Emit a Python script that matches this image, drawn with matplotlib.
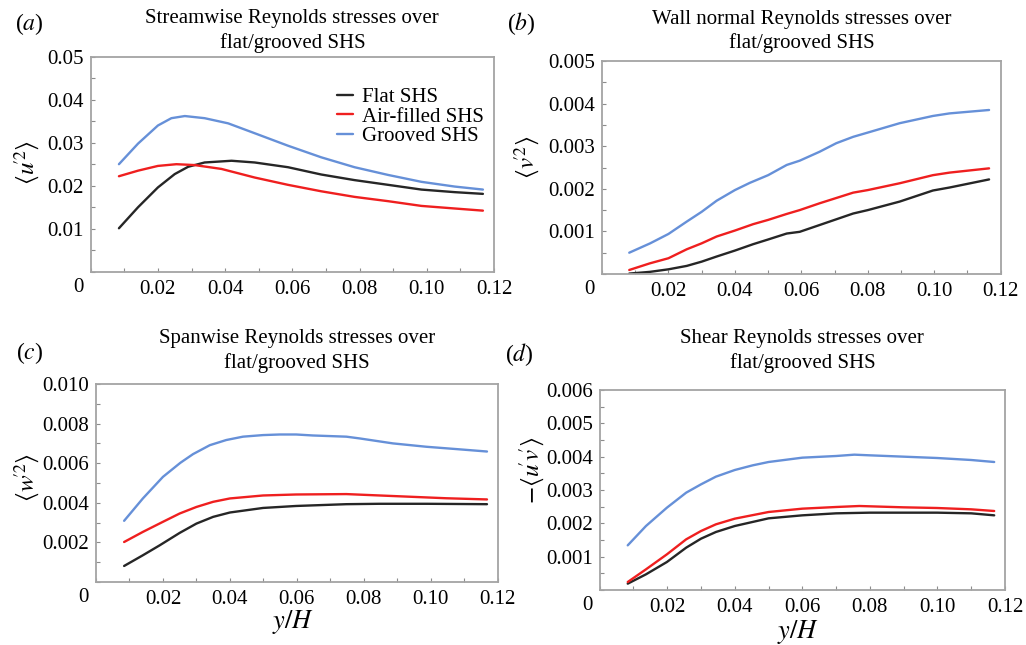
import matplotlib
matplotlib.use("Agg")
import matplotlib.pyplot as plt
from matplotlib.ticker import MultipleLocator

plt.rcParams['font.family'] = ['Liberation Serif', 'DejaVu Serif']
plt.rcParams['mathtext.fontset'] = 'stix'

# ---------------------------------------------------------------- data
series_names = ["Flat SHS", "Air-filled SHS", "Grooved SHS"]
series_colors = ["#262626", "#ef1f1f", "#6690d8"]

# (a) streamwise <u'^2>
a_flat_x = [0.0084, 0.0141, 0.0200, 0.0250, 0.0290, 0.0339, 0.0419, 0.0488, 0.0587,
            0.0686, 0.0785, 0.0885, 0.0984, 0.1083, 0.1167]
a_flat_y = [0.0101, 0.0150, 0.0196, 0.0227, 0.0244, 0.0254, 0.0258, 0.0254, 0.0243,
            0.0226, 0.0213, 0.0202, 0.0191, 0.0185, 0.0181]
a_air_x = [0.0084, 0.0141, 0.0200, 0.0255, 0.0309, 0.0389, 0.0488, 0.0587, 0.0686,
           0.0785, 0.0885, 0.0984, 0.1083, 0.1167]
a_air_y = [0.0222, 0.0235, 0.0246, 0.0250, 0.0248, 0.0239, 0.0219, 0.0202, 0.0187,
           0.0174, 0.0164, 0.0153, 0.0147, 0.0142]
a_groove_x = [0.0084, 0.0141, 0.0200, 0.0240, 0.0280, 0.0339, 0.0409, 0.0488, 0.0587,
              0.0686, 0.0785, 0.0885, 0.0984, 0.1083, 0.1167]
a_groove_y = [0.0250, 0.0298, 0.0340, 0.0357, 0.0362, 0.0357, 0.0345, 0.0322, 0.0293,
              0.0266, 0.0243, 0.0225, 0.0209, 0.0198, 0.0191]

# (b) wall-normal <v'^2>
b_flat_x = [0.0082, 0.0144, 0.0200, 0.0255, 0.0300, 0.0345, 0.0400, 0.0455, 0.0500,
            0.0556, 0.0595, 0.0655, 0.0756, 0.0800, 0.0896, 0.0996, 0.1046, 0.1165]
b_flat_y = [0.00001, 0.00005, 0.00011, 0.00019, 0.00029, 0.00041, 0.00055, 0.00070,
            0.00081, 0.00095, 0.00099, 0.00115, 0.00142, 0.00150, 0.00170, 0.00196,
            0.00203, 0.00222]
b_air_x = [0.0082, 0.0144, 0.0200, 0.0255, 0.0300, 0.0345, 0.0400, 0.0455, 0.0500,
           0.0556, 0.0595, 0.0655, 0.0756, 0.0800, 0.0896, 0.0996, 0.1046, 0.1165]
b_air_y = [0.000094, 0.00025, 0.00037, 0.00058, 0.00072, 0.00088, 0.00102, 0.00117,
           0.00127, 0.00141, 0.00150, 0.00166, 0.00191, 0.00197, 0.00213, 0.00232,
           0.00238, 0.00248]
b_groove_x = [0.0082, 0.0145, 0.0200, 0.0255, 0.0300, 0.0345, 0.0400, 0.0445, 0.0500,
              0.0556, 0.0595, 0.0655, 0.0705, 0.0756, 0.0800, 0.0896, 0.0996, 0.1046,
              0.1165]
b_groove_y = [0.00050, 0.00072, 0.00094, 0.00123, 0.00146, 0.00172, 0.00197, 0.00214,
              0.00232, 0.00256, 0.00266, 0.00287, 0.00307, 0.00322, 0.00332, 0.00354,
              0.00371, 0.00377, 0.00385]

# (c) spanwise <w'^2>
c_flat_x = [0.0084, 0.0140, 0.0190, 0.0250, 0.0300, 0.0350, 0.0400, 0.0499, 0.0598,
            0.0748, 0.0847, 0.0987, 0.1168]
c_flat_y = [0.00081, 0.00135, 0.00185, 0.00248, 0.00295, 0.00329, 0.00351, 0.00374,
            0.00384, 0.00393, 0.00395, 0.00395, 0.00393]
c_air_x = [0.0084, 0.0140, 0.0200, 0.0250, 0.0300, 0.0350, 0.0400, 0.0499, 0.0598,
           0.0748, 0.0847, 0.0947, 0.1046, 0.1168]
c_air_y = [0.00202, 0.00253, 0.00304, 0.00346, 0.00379, 0.00405, 0.00422, 0.00437,
           0.00442, 0.00444, 0.00437, 0.00430, 0.00423, 0.00417]
c_groove_x = [0.0084, 0.0140, 0.0200, 0.0252, 0.0290, 0.0340, 0.0389, 0.0439, 0.0499,
              0.0549, 0.0598, 0.0648, 0.0748, 0.0788, 0.0887, 0.0987, 0.1086, 0.1168]
c_groove_y = [0.00309, 0.00422, 0.00531, 0.00602, 0.00646, 0.00691, 0.00717, 0.00734,
              0.00742, 0.00745, 0.00745, 0.00740, 0.00734, 0.00725, 0.00700, 0.00683,
              0.00670, 0.00659]

# (d) shear -<u'v'>
d_flat_x = [0.0083, 0.0137, 0.0199, 0.0256, 0.0300, 0.0344, 0.0400, 0.0500, 0.0600,
            0.0700, 0.0800, 0.0900, 0.0999, 0.1100, 0.1168]
d_flat_y = [0.00019, 0.00047, 0.00084, 0.00127, 0.00154, 0.00174, 0.00192, 0.00215,
            0.00224, 0.00230, 0.00232, 0.00232, 0.00232, 0.00230, 0.00224]
d_air_x = [0.0083, 0.0137, 0.0199, 0.0256, 0.0300, 0.0344, 0.0400, 0.0500, 0.0600,
           0.0700, 0.0769, 0.0900, 0.0999, 0.1100, 0.1168]
d_air_y = [0.00024, 0.00062, 0.00107, 0.00152, 0.00177, 0.00197, 0.00214, 0.00234,
           0.00244, 0.00249, 0.00252, 0.00248, 0.00246, 0.00242, 0.00237]
d_groove_x = [0.0083, 0.0137, 0.0199, 0.0256, 0.0300, 0.0344, 0.0400, 0.0453, 0.0500,
              0.0600, 0.0700, 0.0754, 0.0800, 0.0900, 0.0999, 0.1100, 0.1168]
d_groove_y = [0.00134, 0.00192, 0.00247, 0.00292, 0.00317, 0.00340, 0.00360, 0.00374,
              0.00384, 0.00397, 0.00402, 0.00406, 0.00404, 0.00400, 0.00396, 0.00390,
              0.00384]

x_ticks = [0.02, 0.04, 0.06, 0.08, 0.10, 0.12]
x_tick_labels = ["0.02", "0.04", "0.06", "0.08", "0.10", "0.12"]

a_yticks = [0.01, 0.02, 0.03, 0.04, 0.05]
a_ylabels = ["0.01", "0.02", "0.03", "0.04", "0.05"]
b_yticks = [0.001, 0.002, 0.003, 0.004, 0.005]
b_ylabels = ["0.001", "0.002", "0.003", "0.004", "0.005"]
c_yticks = [0.002, 0.004, 0.006, 0.008, 0.010]
c_ylabels = ["0.002", "0.004", "0.006", "0.008", "0.010"]
d_yticks = [0.001, 0.002, 0.003, 0.004, 0.005, 0.006]
d_ylabels = ["0.001", "0.002", "0.003", "0.004", "0.005", "0.006"]

titles = [
    "Streamwise Reynolds stresses over\nflat/grooved SHS",
    "Wall normal Reynolds stresses over\nflat/grooved SHS",
    "Spanwise Reynolds stresses over\nflat/grooved SHS",
    "Shear Reynolds stresses over\nflat/grooved SHS",
]
ylabels = [r"$\langle u^{\!\!\prime 2}\rangle$", r"$\langle v^{\!\!\prime 2}\rangle$",
           r"$\langle w^{\!\!\prime 2}\rangle$",
           r"$-\langle u^{\!\!\prime} v^{\!\!\prime}\rangle$"]
panel_tags = ["a", "b", "c", "d"]

# ---------------------------------------------------------------- figure
W, H = 1026, 645
fig = plt.figure(figsize=(W / 100, H / 100), dpi=100)
FS = 15
FRAME = "#a4a4a4"


def px_axes(left, top, right, bottom):
    return fig.add_axes([left / W, 1 - bottom / H, (right - left) / W, (bottom - top) / H])


panels = [
    dict(box=(90.7, 56.7, 494.0, 271.7), ymax=0.05, yt=a_yticks, yl=a_ylabels, ymin_step=0.005,
         data=[(a_flat_x, a_flat_y), (a_air_x, a_air_y), (a_groove_x, a_groove_y)],
         ylab_pos=(-0.158, 0.51), tag_pos=(29, 24), title_y=31, xlabel=False),
    dict(box=(602.0, 61.0, 1000.7, 274.0), ymax=0.005, yt=b_yticks, yl=b_ylabels, ymin_step=0.0005,
         data=[(b_flat_x, b_flat_y), (b_air_x, b_air_y), (b_groove_x, b_groove_y)],
         ylab_pos=(-0.186, 0.55), tag_pos=(521, 24), title_y=31.5, xlabel=False),
    dict(box=(96.0, 384.0, 497.7, 582.0), ymax=0.010, yt=c_yticks, yl=c_ylabels, ymin_step=0.001,
         data=[(c_flat_x, c_flat_y), (c_air_x, c_air_y), (c_groove_x, c_groove_y)],
         ylab_pos=(-0.172, 0.53), tag_pos=(30, 353), title_y=351, xlabel=(0.49, -0.20)),
    dict(box=(599.7, 390.0, 1005.0, 590.0), ymax=0.006, yt=d_yticks, yl=d_ylabels, ymin_step=0.0005,
         data=[(d_flat_x, d_flat_y), (d_air_x, d_air_y), (d_groove_x, d_groove_y)],
         ylab_pos=(-0.167, 0.60), tag_pos=(519, 355), title_y=351, xlabel=(0.489, -0.21)),
]

for i, p in enumerate(panels):
    l, t, r, b = p["box"]
    ax = px_axes(l, t, r, b)
    for (xs, ys), name, col in zip(p["data"], series_names, series_colors):
        ax.plot(xs, ys, color=col, lw=1.7, label=name, solid_capstyle="round",
                solid_joinstyle="round")
    ax.set_xlim(0, 0.12)
    ax.set_ylim(0, p["ymax"])
    ax.set_xticks(x_ticks, x_tick_labels)
    ax.set_yticks(p["yt"], p["yl"])
    ax.xaxis.set_minor_locator(MultipleLocator(0.01))
    ax.yaxis.set_minor_locator(MultipleLocator(p["ymin_step"]))
    ax.tick_params(which="both", direction="in", length=3, width=0.8, color="#8c8c8c",
                   top=False, right=False, labelsize=FS)
    ax.tick_params(axis="x", pad=6)
    ax.tick_params(axis="y", pad=5)
    for s in ax.spines.values():
        s.set_color(FRAME)
        s.set_linewidth(1.3)

    # origin label sits just outside the lower-left corner
    ax.annotate("0", xy=(0, 0), xycoords="axes fraction", xytext=(-12.5, -15.5),
                textcoords="offset pixels", ha="center", va="center", fontsize=FS)

    ax.text(p["ylab_pos"][0], p["ylab_pos"][1], ylabels[i], transform=ax.transAxes,
            rotation=90, ha="center", va="center", fontsize=18)
    if p["xlabel"]:
        ax.text(p["xlabel"][0], p["xlabel"][1], r"$y/H$", transform=ax.transAxes,
                ha="center", va="center", fontsize=19)

    fig.text((l + r) / 2 / W, 1 - p["title_y"] / H, titles[i], ha="center", va="center",
             fontsize=FS, linespacing=1.3)
    tx, ty = p["tag_pos"]
    fig.text(tx / W, 1 - ty / H, r"($\mathit{" + panel_tags[i] + r"}$)", ha="center",
             va="center", fontsize=17)

    if i == 0:
        ax.legend(loc="upper left", bbox_to_anchor=((337 - l) / (r - l), (b - 87.5) / (b - t)),
                  frameon=False, fontsize=FS, borderpad=0, borderaxespad=0,
                  handlelength=0.78, handletextpad=0.4, labelspacing=0.0)

fig.savefig("out.png", dpi=100)
